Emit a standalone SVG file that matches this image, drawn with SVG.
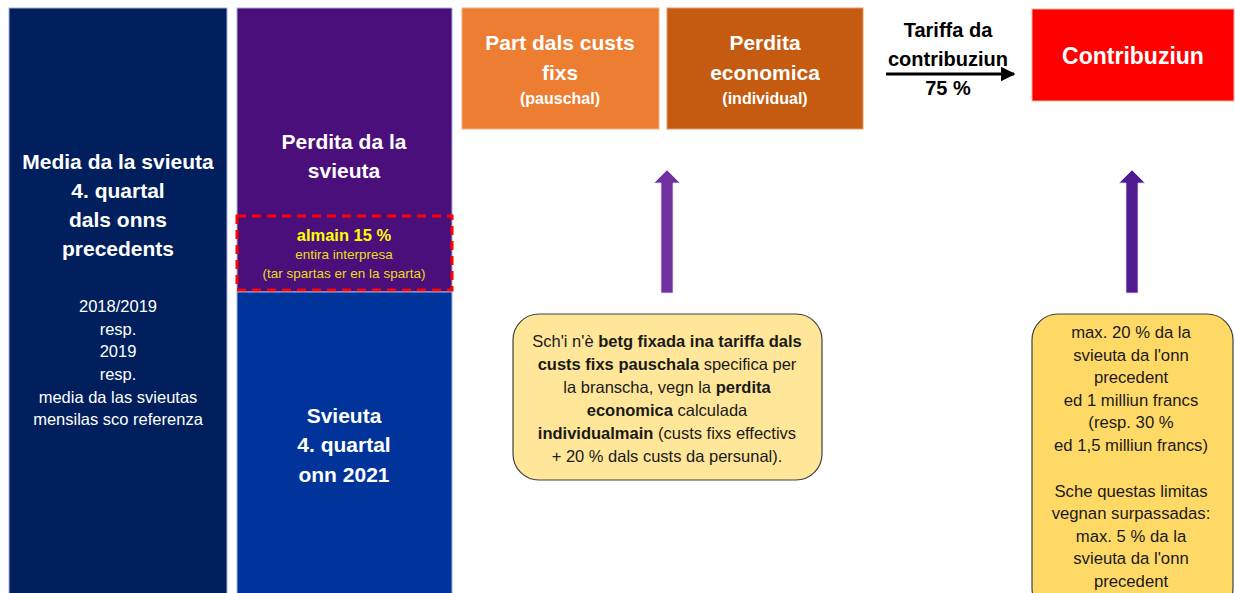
<svg xmlns="http://www.w3.org/2000/svg" width="1235" height="593" viewBox="0 0 1235 593">
<style>
text{font-family:"Liberation Sans",Arial,sans-serif;text-anchor:middle}
.wb{fill:#fff;font-weight:bold;font-size:21px}
.ws{fill:#fff;font-size:16.5px}
.wp{fill:#fff;font-weight:bold;font-size:16px}
.cb{fill:#1a1a1a;font-size:16.5px}
.cm{fill:#1a1a1a;font-size:16.7px}
tspan.b{font-weight:bold}
.col{stroke:#9fb3d6;stroke-width:1}
</style>
<defs>
<marker id="ah" viewBox="0 0 10 10" refX="9" refY="5" markerWidth="5" markerHeight="5" orient="auto"><path d="M0,0 L10,5 L0,10 z" fill="#000"/></marker>
</defs>
<rect width="1235" height="593" fill="#fff"/>
<g id="media">
<rect class="col" x="9" y="8" width="218" height="600" fill="#001f5c"/>
<text class="wb" x="118" y="169">Media da la svieuta</text>
<text class="wb" x="118" y="198">4. quartal</text>
<text class="wb" x="118" y="227">dals onns</text>
<text class="wb" x="118" y="256">precedents</text>
<text class="ws" x="118" y="312">2018/2019</text>
<text class="ws" x="118" y="335">resp.</text>
<text class="ws" x="118" y="357">2019</text>
<text class="ws" x="118" y="380">resp.</text>
<text class="ws" x="118" y="403">media da las svieutas</text>
<text class="ws" x="118" y="425">mensilas sco referenza</text>
</g>
<g id="perdita-svieuta">
<rect class="col" x="237" y="8" width="215" height="284" fill="#4a0f7a"/>
<text class="wb" x="344" y="149">Perdita da la</text>
<text class="wb" x="344" y="178">svieuta</text>
</g>
<g id="almain">
<rect x="237" y="216" width="215" height="74" fill="none" stroke="#ff0000" stroke-width="3" stroke-dasharray="9 6"/>
<text x="344" y="241" style="fill:#ffff00;font-weight:bold;font-size:16.5px">almain 15 %</text>
<text x="344" y="259" style="fill:#eadc1a;font-size:13.5px">entira interpresa</text>
<text x="344" y="278" style="fill:#eadc1a;font-size:13.5px">(tar spartas er en la sparta)</text>
</g>
<g id="svieuta">
<rect class="col" x="237" y="292" width="215" height="320" fill="#00349a"/>
<text class="wb" x="344" y="423">Svieuta</text>
<text class="wb" x="344" y="452">4. quartal</text>
<text class="wb" x="344" y="482">onn 2021</text>
</g>
<g id="part-custs">
<rect x="462" y="8" width="197" height="121" fill="#ed7d31" stroke="#f4b183" stroke-width="1"/>
<text class="wb" x="560" y="50">Part dals custs</text>
<text class="wb" x="560" y="80">fixs</text>
<text class="wp" x="560" y="104">(pauschal)</text>
</g>
<g id="perdita-economica">
<rect x="667" y="8" width="196" height="121" fill="#c55a11" stroke="#e59a6a" stroke-width="1"/>
<text class="wb" x="765" y="50">Perdita</text>
<text class="wb" x="765" y="80">economica</text>
<text class="wp" x="765" y="104">(individual)</text>
</g>
<g id="contribuziun">
<rect x="1032" y="9" width="202" height="92" fill="#ff0000" stroke="#f8b0a0" stroke-width="1"/>
<text x="1133" y="64" style="fill:#fff;font-weight:bold;font-size:23px">Contribuziun</text>
</g>
<g id="tariffa">
<text x="948" y="37" style="fill:#000;font-weight:bold;font-size:20px">Tariffa da</text>
<text x="948" y="66" style="fill:#000;font-weight:bold;font-size:20px">contribuziun</text>
<text x="948" y="95" style="fill:#000;font-weight:bold;font-size:20px">75 %</text>
</g>
<g id="callout-perdita">
<rect x="513" y="314" width="309" height="166" rx="26" fill="#ffe699" stroke="#404040" stroke-width="1.2"/>
<text class="cb" x="667" y="347">Sch'i n'è <tspan class="b">betg fixada ina tariffa dals</tspan></text>
<text class="cb" x="667" y="370"><tspan class="b">custs fixs pauschala</tspan> specifica per</text>
<text class="cb" x="667" y="393">la branscha, vegn la <tspan class="b">perdita</tspan></text>
<text class="cb" x="667" y="416"><tspan class="b">economica</tspan> calculada</text>
<text class="cb" x="667" y="439"><tspan class="b">individualmain</tspan> (custs fixs effectivs</text>
<text class="cb" x="667" y="462">+ 20 % dals custs da persunal).</text>
</g>
<g id="callout-max">
<rect x="1032" y="314" width="201" height="300" rx="26" fill="#ffd966" stroke="#404040" stroke-width="1.2"/>
<text class="cm" x="1131" y="338">max. 20 % da la</text>
<text class="cm" x="1131" y="361">svieuta da l'onn</text>
<text class="cm" x="1131" y="383">precedent</text>
<text class="cm" x="1131" y="406">ed 1 milliun francs</text>
<text class="cm" x="1131" y="428">(resp. 30 %</text>
<text class="cm" x="1131" y="451">ed 1,5 milliun francs)</text>
<text class="cm" x="1131" y="497">Sche questas limitas</text>
<text class="cm" x="1131" y="519">vegnan surpassadas:</text>
<text class="cm" x="1131" y="542">max. 5 % da la</text>
<text class="cm" x="1131" y="564">svieuta da l'onn</text>
<text class="cm" x="1131" y="587">precedent</text>
</g>
<g id="connectors">
<line x1="886" y1="74" x2="1014" y2="74" stroke="#000" stroke-width="3" marker-end="url(#ah)"/>
<path d="M667,170 L680,183 L673,183 L673,293 L661,293 L661,183 L654,183 Z" fill="#7030a0" stroke="#e6d5f0" stroke-width="0.8"/>
<path d="M1132,170 L1145,183 L1138,183 L1138,293 L1126,293 L1126,183 L1119,183 Z" fill="#4f1a8f" stroke="#e6d5f0" stroke-width="0.8"/>
</g>
</svg>
